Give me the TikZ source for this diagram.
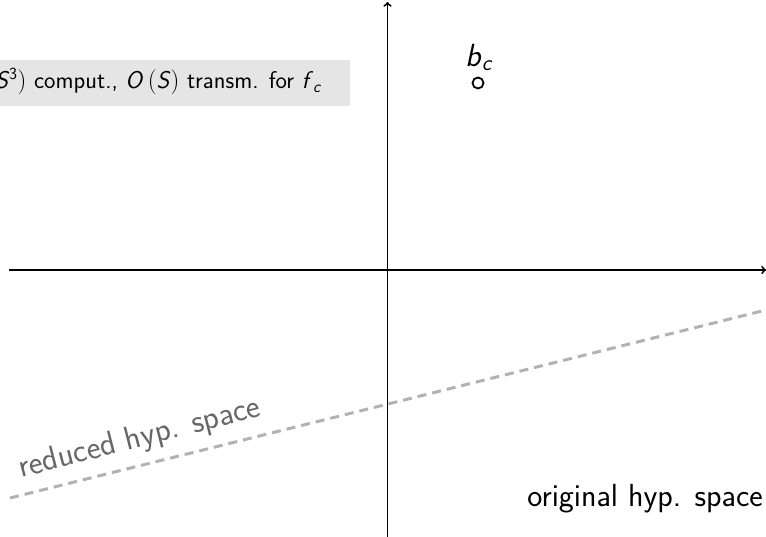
\documentclass[tikz,border=0pt]{standalone}
\usepackage{amsmath}
\newcommand\sv[1]{\textsf{\slshape #1}}
\begin{document}
\begin{tikzpicture}[x=1pt,y=-1pt,
  axis/.style={line width=1.9pt,->,>=to},
  hyp/.style={black!30,line width=3pt,dash pattern=on 9pt off 6pt},
  bigtxt/.style={font=\sffamily\fontsize{32}{38}\selectfont,inner sep=0pt},
  redtxt/.style={font=\sffamily\fontsize{33}{39}\selectfont,inner sep=0pt},
  midtxt/.style={font=\sffamily\fontsize{24.2}{29}\selectfont,inner sep=0pt}]
\useasboundingbox (0,0) rectangle (766,537);
\clip (0,0) rectangle (766,537);
% cost box
\fill[black!10] (-5,60) rectangle (350,106);
\node[midtxt,anchor=base east] (cost) at (321,89)
  {\sv{O}\,$($\sv{S}$^{\textsf{3}})$ comput., \sv{O}\,$($\sv{S}$)$ transm. for \sv{f}$_{\textsf{\slshape c}}$};
% axes
\coordinate (xl) at (9,270);
\coordinate (xr) at (766,270);
\coordinate (yb) at (387.5,537);
\coordinate (yt) at (387.5,2);
\draw[axis] (xl) -- (xr);
\draw[axis] (yb) -- (yt);
% reduced hypothesis space
\coordinate (hl) at (10,498);
\coordinate (hr) at (766,310);
\draw[hyp] (hl) -- (hr);
\node[redtxt,text=black!60,anchor=base west,rotate=14.5] (red) at (21,478) {reduced hyp. space};
% original hypothesis space
\node[bigtxt,anchor=base east] (orig) at (763,506) {original hyp. space};
% point b_c
\node[circle,draw,line width=1.8pt,minimum size=11pt,inner sep=0pt] (bc) at (478,83) {};
\node[bigtxt,anchor=base west] (bclab) at (465,67) {\sv{b}$_{\textsf{\slshape c}}$};
\end{tikzpicture}
\end{document}
